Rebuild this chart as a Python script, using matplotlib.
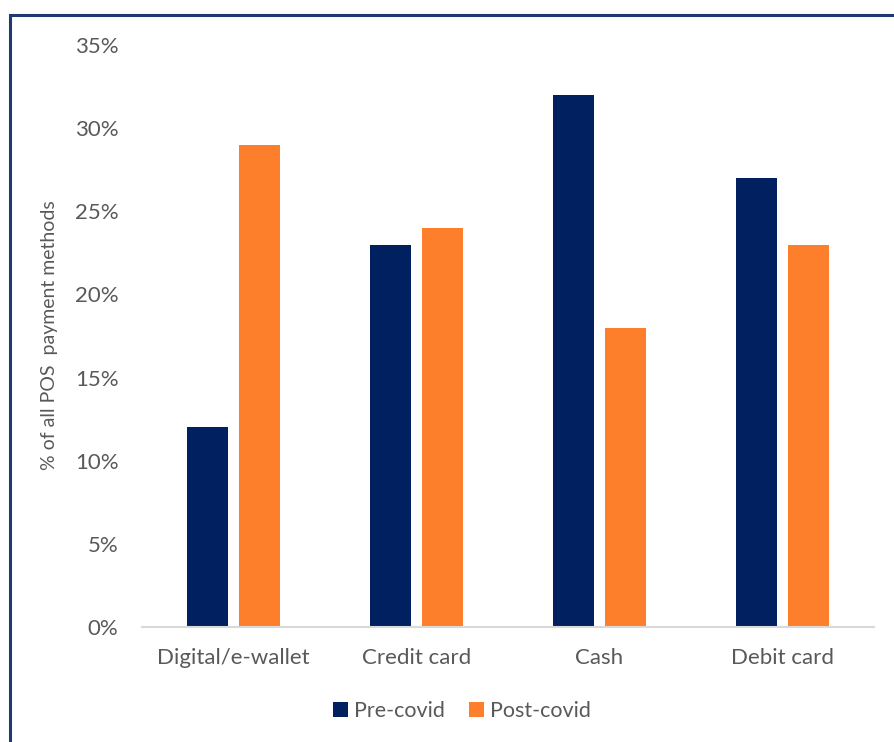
import matplotlib.pyplot as plt
import numpy as np
from matplotlib.patches import Rectangle

categories = ['Digital/e-wallet', 'Credit card', 'Cash', 'Debit card']
pre_covid = [12, 23, 32, 27]
post_covid = [29, 24, 18, 23]
y_ticks = [0, 5, 10, 15, 20, 25, 30, 35]

navy = '#002060'
orange = '#FD7F2C'
grey = '#595959'

plt.rcParams['font.family'] = ['Lato', 'DejaVu Sans']

fig = plt.figure(figsize=(8.95, 7.42), dpi=100)
ax = fig.add_axes([142 / 895, 1 - 627 / 742, 732 / 895, (627 - 45) / 742])

# outer frame (only left and top edges fall inside the image)
fig.patches.append(Rectangle((10 / 895, -0.1), 1.2, 1 - 15 / 742 + 0.1,
                             transform=fig.transFigure, fill=False,
                             edgecolor='#1F3A6E', linewidth=2.2))

x = np.arange(len(categories))
w = 0.224
off = 0.142
ax.bar(x - off, pre_covid, w, color=navy, label='Pre-covid')
ax.bar(x + off, post_covid, w, color=orange, label='Post-covid')

ax.set_xlim(-0.5, 3.5)
ax.set_ylim(0, 35)
ax.set_yticks(y_ticks)
ax.set_yticklabels([f'{t}%' for t in y_ticks])
ax.set_xticks(x)
ax.set_xticklabels(categories)
ax.tick_params(axis='both', length=0, labelsize=16, colors=grey)
ax.tick_params(axis='y', pad=17)
ax.tick_params(axis='x', pad=15)

for s in ['top', 'right', 'left']:
    ax.spines[s].set_visible(False)
ax.spines['bottom'].set_color('#D9D9D9')
ax.spines['bottom'].set_linewidth(1.5)

fig.text(50 / 895, 1 - 335 / 742, '% of all POS  payment methods', rotation=90,
         ha='center', va='center', fontsize=14, color=grey)

leg = fig.legend(loc='center', bbox_to_anchor=(462 / 895, 1 - 711 / 742), ncol=2,
                 frameon=False, fontsize=15.5, handlelength=0.7, handleheight=0.7,
                 handletextpad=0.3, columnspacing=1.1)
for t in leg.get_texts():
    t.set_color(grey)

fig.savefig('out.png', dpi=100)
